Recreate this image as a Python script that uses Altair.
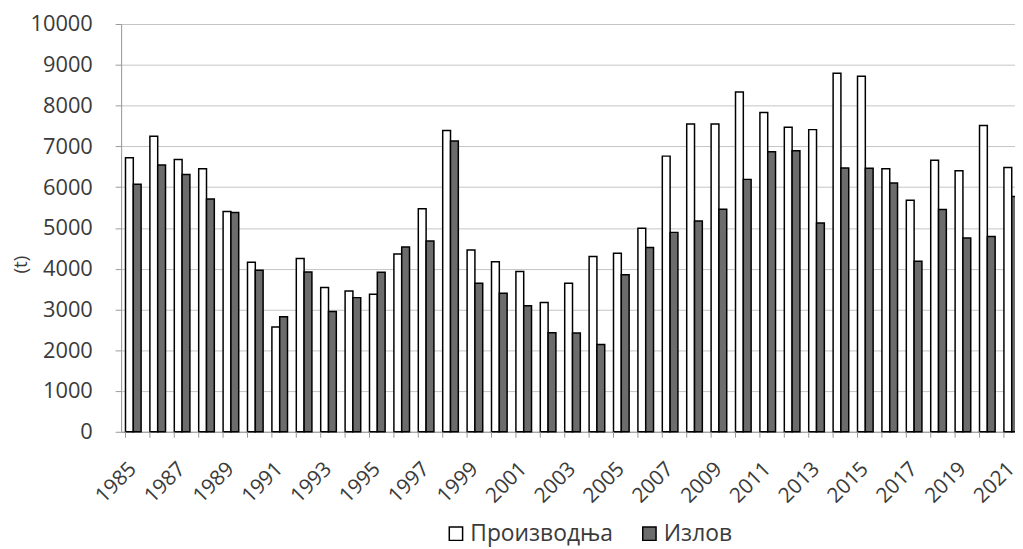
import altair as alt
import pandas as pd

years = list(range(1985, 2022))
proizvodnja = [6720, 7250, 6680, 6450, 5400, 4160, 2570, 4250, 3540, 3450,
               3370, 4360, 5470, 7390, 4460, 4170, 3930, 3170, 3640, 4300,
               4380, 4990, 6760, 7550, 7550, 8330, 7830, 7470, 7410, 8790,
               8720, 6450, 5680, 6660, 6400, 7510, 6480]
izlov = [6070, 6540, 6310, 5710, 5380, 3960, 2820, 3920, 2950, 3290,
         3910, 4530, 4680, 7130, 3640, 3400, 3090, 2430, 2420, 2140,
         3850, 4520, 4890, 5170, 5460, 6190, 6870, 6890, 5120, 6470,
         6460, 6100, 4180, 5450, 4750, 4790, 5770]
series = ["Производња", "Излов"]
y_ticks = list(range(0, 10001, 1000))

rows = []
for i, yr in enumerate(years):
    rows.append({"year": yr, "series": series[0], "value": proizvodnja[i]})
    rows.append({"year": yr, "series": series[1], "value": izlov[i]})
df = pd.DataFrame(rows)
df_years = pd.DataFrame({"year": years})

FONT = "Open Sans"
W, H = 901, 411
xscale = alt.Scale(range=[0, 910], paddingInner=0.36, paddingOuter=0.18)

bars = alt.Chart(df).mark_bar(stroke="black", strokeWidth=1.5).encode(
    x=alt.X("year:O", scale=xscale, title=None,
            axis=alt.Axis(labelAngle=-45, labelAlign="right", labelBaseline="middle",
                          labelExpr="datum.value % 2 == 1 ? datum.label : ''",
                          labelOverlap=False, ticks=False, labelPadding=34,
                          labelFont=FONT, labelFontSize=21, labelColor="#3a3a3a",
                          domainColor="#9a9a9a", domainWidth=1, grid=False)),
    xOffset=alt.XOffset("series:N", sort=series, scale=alt.Scale(paddingInner=0, paddingOuter=0)),
    y=alt.Y("value:Q", scale=alt.Scale(domain=[0, 10000], nice=False),
            axis=alt.Axis(values=y_ticks, format="d", title="(t)", titleAngle=-90,
                          titleX=-101, titleY=242, titleAlign="center", titleBaseline="middle",
                          titleFont=FONT, titleFontSize=19, titleFontWeight="normal",
                          titleColor="#3a3a3a",
                          labelFont=FONT, labelFontSize=22, labelColor="#3a3a3a",
                          labelPadding=23, tickSize=6, tickColor="#9a9a9a",
                          domainColor="#9a9a9a", gridColor="#c4c4c4", gridWidth=1)),
    color=alt.Color("series:N", sort=series,
                    scale=alt.Scale(domain=series, range=["#ffffff", "#6c6c6c"]),
                    legend=alt.Legend(title=None, orient="none", legendX=326, legendY=502,
                                      direction="horizontal", symbolType="square",
                                      symbolSize=180, symbolStrokeColor="black",
                                      symbolStrokeWidth=1.5, labelFont=FONT,
                                      labelFontSize=23, labelColor="#3a3a3a",
                                      columnPadding=25, labelOffset=3)),
)

ticks = alt.Chart(df_years).mark_rule(color="#9a9a9a", strokeWidth=1).encode(
    x=alt.X("year:O", bandPosition=0, scale=xscale),
    y=alt.value(H),
    y2=alt.value(H + 6),
)

chart = alt.layer(bars, ticks).properties(
    width=W, height=H,
    padding={"left": 114, "top": 14, "right": 0, "bottom": 114},
    autosize=alt.AutoSizeParams(type="none"),
).configure_view(stroke=None).configure(background="white")

chart.save("out.html", embed_options={"renderer": "svg", "actions": False})
